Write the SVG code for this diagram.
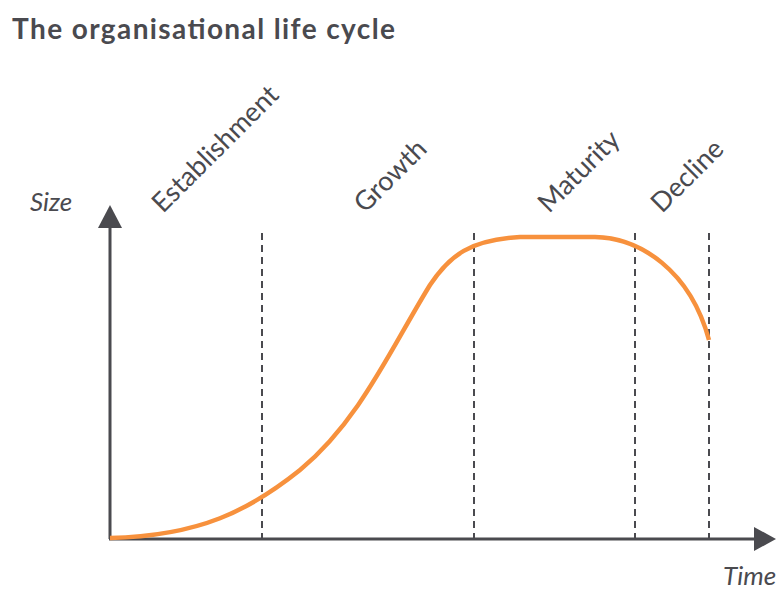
<svg xmlns="http://www.w3.org/2000/svg" width="784" height="592" viewBox="0 0 784 592">
<style>
.title{font-family:Lato,"Noto Sans",sans-serif;font-weight:700;font-size:28px;fill:#4a4a4f}
.ax{font-family:Lato,"Noto Sans",sans-serif;font-style:italic;font-size:26px;fill:#4a4a4f}
.ph{font-family:Lato,"Noto Sans",sans-serif;font-size:27px;fill:#4a4a4f}
.axis{stroke:#4a4a4f;stroke-width:3;fill:none}
.dash{stroke:#4a4a4f;stroke-width:2;stroke-dasharray:7 5;fill:none}
.curve{stroke:#f7913d;stroke-width:4.5;fill:none;stroke-linecap:butt}
</style>
<rect width="784" height="592" fill="#ffffff"/>
<text class="title" x="12" y="39" textLength="383" lengthAdjust="spacing">The organisational life cycle</text>
<g id="axes">
<line class="axis" x1="110" y1="539" x2="110" y2="226"/>
<polygon points="110,205 98,228 122,228" fill="#4a4a4f"/>
<line class="axis" x1="109" y1="539" x2="756" y2="539"/>
<polygon points="776,539 754,527 754,551" fill="#4a4a4f"/>
<text class="ax" x="30" y="211">Size</text>
<text class="ax" x="723" y="585">Time</text>
</g>
<g id="connectors">
<line class="dash" x1="262" y1="233" x2="262" y2="539"/>
<line class="dash" x1="474" y1="233" x2="474" y2="539"/>
<line class="dash" x1="635" y1="233" x2="635" y2="539"/>
<line class="dash" x1="709" y1="233" x2="709" y2="539"/>
</g>
<g id="curve">
<path class="curve" d="M110,538 C200,536 250,510 300,470 C360,420 390,350 430,285 C450,255 470,240 520,237 L595,237 C640,238 690,270 709,340"/>
</g>
<g id="labels">
<text class="ph" transform="translate(163,214) rotate(-45)">Establishment</text>
<text class="ph" transform="translate(365,214) rotate(-45)">Growth</text>
<text class="ph" transform="translate(549,214) rotate(-45)">Maturity</text>
<text class="ph" transform="translate(662,214) rotate(-45)">Decline</text>
</g>
</svg>
